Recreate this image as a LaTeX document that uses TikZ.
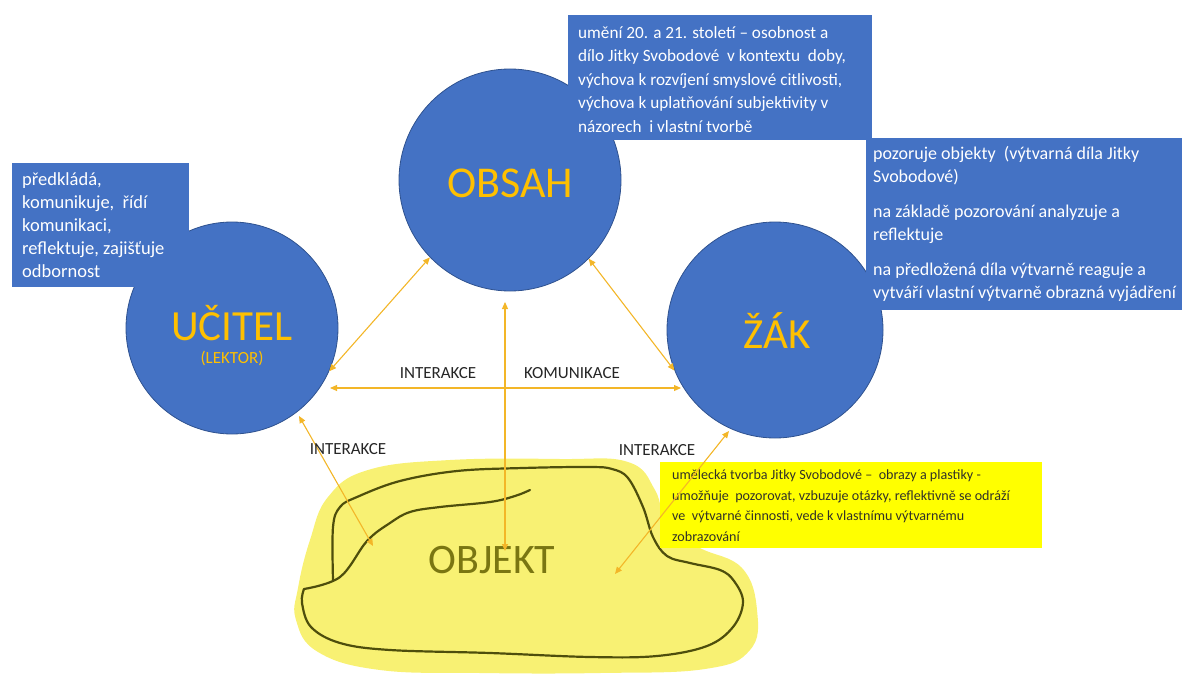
\documentclass[tikz,border=0pt]{standalone}
\usepackage{fontspec}
\setmainfont{Carlito}
\usetikzlibrary{arrows.meta}

\definecolor{circblue}{RGB}{68,114,196}
\definecolor{circedge}{RGB}{47,82,143}
\definecolor{rolegold}{RGB}{255,192,0}
\definecolor{linkgold}{RGB}{243,182,40}
\definecolor{labeltext}{RGB}{38,38,38}
\definecolor{noteyellow}{RGB}{255,255,0}
\definecolor{notetext}{RGB}{50,50,40}
\definecolor{blobfill}{RGB}{248,241,115}
\definecolor{blobline}{RGB}{78,78,12}
\definecolor{objtext}{RGB}{122,118,18}

\tikzset{
  role/.style={circle, fill=circblue, draw=circedge, line width=0.8pt, inner sep=0pt},
  rolename/.style={text=rolegold, font=\fontsize{43}{43}\selectfont, inner sep=0pt},
  bluenote/.style={fill=circblue, draw=none, anchor=north west, inner sep=0pt},
  notetextstyle/.style={text=white, align=left, anchor=north west, inner sep=0pt,
    font=\fontsize{17.2}{23.5}\selectfont},
  link/.style={draw=linkgold, line width=1.1pt, {Triangle[length=7pt,width=6pt]}-{Triangle[length=7pt,width=6pt]}},
  linklabel/.style={text=labeltext, font=\fontsize{17}{17}\selectfont, inner sep=0pt}
}

\begin{document}
\begin{tikzpicture}[x=1pt,y=-1pt]
\useasboundingbox (0,0) rectangle (1182,674);

% the three roles
\node[role, minimum size=222pt] (obsah) at (510,180) {};
\node[role, minimum size=212pt] (ucitel) at (232,328) {};
\node[role, minimum size=216pt] (zak) at (775,330) {};

\node[rolename, font=\fontsize{44}{44}\selectfont] (obsahname) at (510,183) {OBSAH};
\node[rolename] (ucitelname) at (232,323) {UČITEL};
\node[text=rolegold, font=\fontsize{17}{17}\selectfont, inner sep=0pt] (lektor) at (232,358) {(LEKTOR)};
\node[rolename] (zakname) at (777,331) {ŽÁK};

% descriptive notes
\node[bluenote, minimum width=304pt, minimum height=125pt] (obsahbox) at (568,15) {};
\node[notetextstyle] (obsahtext) at (578,26) {umění 20. a 21. století – osobnost a\\
dílo Jitky Svobodové\ \ v kontextu\ \ doby,\\
výchova k rozvíjení smyslové citlivosti,\\
výchova k uplatňování subjektivity v\\
názorech\ \ i vlastní tvorbě};

\node[bluenote, minimum width=177pt, minimum height=124pt] (ucitelbox) at (12,163) {};
\node[notetextstyle, font=\fontsize{18.5}{23.2}\selectfont] (uciteltext) at (22,172) {předkládá,\\
komunikuje,\ \ řídí\\
komunikaci,\\
reflektuje, zajišťuje\\
odbornost};

\node[bluenote, minimum width=316pt, minimum height=172pt] (zakbox) at (866,138) {};
\node[notetextstyle, font=\fontsize{18}{23}\selectfont] (zaktext) at (873,146) {pozoruje objekty\ \ (výtvarná díla Jitky\\
Svobodové)\\[12pt]
na základě pozorování analyzuje a\\
reflektuje\\[12pt]
na předložená díla výtvarně reaguje a\\
vytváří vlastní výtvarně obrazná vyjádření};

% the object: highlighted area with its hand-drawn outline
\fill[blobfill] plot[smooth cycle, tension=0.7] coordinates {
  (298,588) (310,540) (328,497) (368,470) (450,460) (560,459) (628,462)
  (655,490) (668,528) (700,548) (742,568) (757,610) (750,650) (705,669)
  (600,673) (480,673) (380,670) (318,652) (296,620)};
\draw[blobline, line width=2.2pt, line cap=round, line join=round]
  plot[smooth, tension=0.6] coordinates {
  (333,580) (333,527) (340,507) (357,497) (400,481) (457,471) (523,468)
  (590,467) (612,469) (628,478) (643,507) (653,537) (667,556) (690,563)
  (720,570) (734,581) (743,602) (733,627) (707,646) (657,656) (590,657)
  (490,653) (390,650) (340,643) (311,627) (302,603) (304,589)};
\draw[blobline, line width=2.2pt, line cap=round, line join=round]
  plot[smooth, tension=0.6] coordinates {
  (304,589) (340,577) (367,541) (390,523) (410,512) (440,507) (490,502)
  (515,496) (530,490)};
\node[text=objtext, font=\fontsize{42}{42}\selectfont, inner sep=0pt] (objekt) at (492,560) {OBJEKT};

\node[fill=noteyellow, anchor=north west, inner sep=0pt, minimum width=382pt, minimum height=86pt] (objektbox) at (660,462) {};
\node[text=notetext, align=left, anchor=north west, inner sep=0pt, font=\fontsize{14.1}{20.5}\selectfont] (objekttext) at (672,470) {umělecká tvorba Jitky Svobodové –\ \ obrazy a plastiky -\\
umožňuje\ \ pozorovat, vzbuzuje otázky, reflektivně se odráží\\
ve\ \ výtvarné činnosti, vede k vlastnímu výtvarnému\\
zobrazování};

% arrow end points
\coordinate (hleft) at (330,388);
\coordinate (hright) at (681,388);
\coordinate (vtop) at (505,302);
\coordinate (vbottom) at (505,551);
\coordinate (uobj) at (373,546);
\coordinate (ucorner) at (299,416);
\coordinate (zcorner) at (729,431);
\coordinate (zobj) at (615,574);

% interactions
\draw[link] (ucitel.-24) -- (obsah.-136);
\draw[link] (obsah.-45) -- (zak.-158);
\draw[link] (hleft) -- (hright);
\draw[link] (vtop) -- (vbottom);
\draw[link] (ucorner) -- (uobj);
\draw[link] (zcorner) -- (zobj);

\node[linklabel] (interakce1) at (438,373) {INTERAKCE};
\node[linklabel] (komunikace) at (572,373) {KOMUNIKACE};
\node[linklabel] (interakce2) at (348,449) {INTERAKCE};
\node[linklabel] (interakce3) at (657,450) {INTERAKCE};
\end{tikzpicture}
\end{document}
